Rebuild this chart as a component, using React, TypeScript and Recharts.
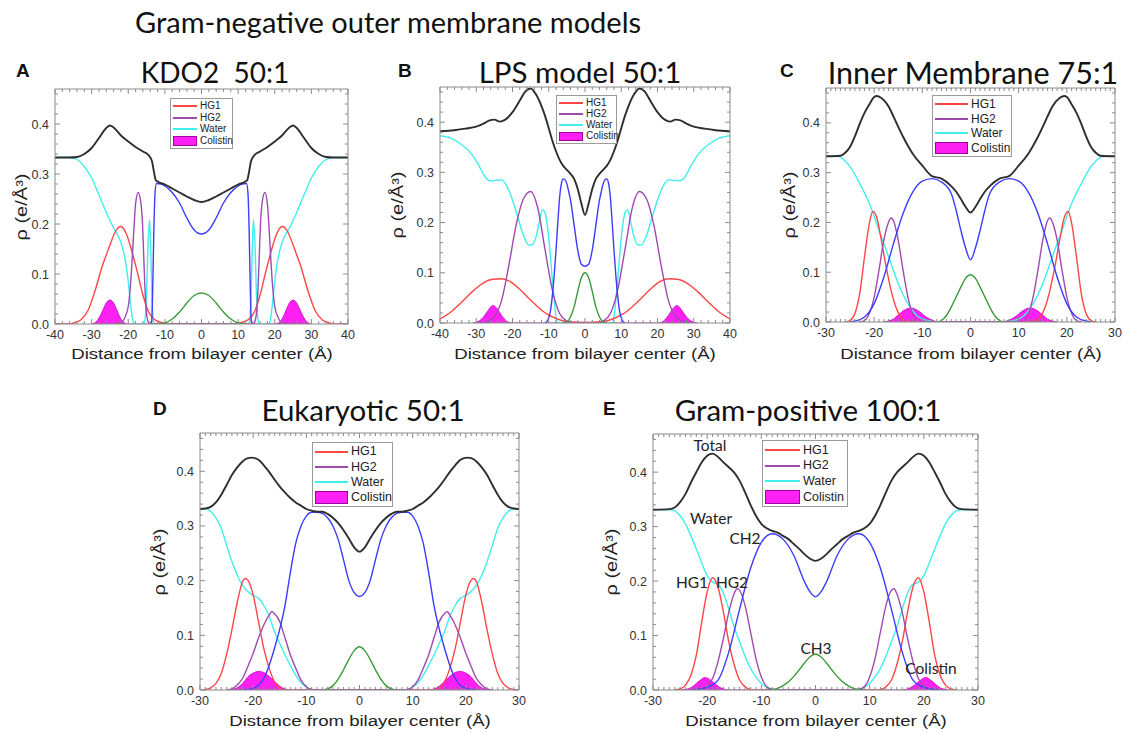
import React from 'react';
import { ComposedChart, Line, Area, XAxis, YAxis } from 'recharts';

type Pt = [number, number];

// line colours of the density profiles
const C_TOTAL = '#2e2e2e';
const C_WATER = '#40eeee';
const C_HG1 = '#ff4646';
const C_HG2 = '#a04ab0';
const C_CH2 = '#3c3cff';
const C_CH3 = '#3a9a3a';
const C_COL = '#ff20f4';

const Y_DOMAIN: [number, number] = [0, 0.47];
const Y_MAJOR = [0, 0.1, 0.2, 0.3, 0.4];
const X_MAJOR_40 = [-40, -30, -20, -10, 0, 10, 20, 30, 40];
const X_MAJOR_30 = [-30, -20, -10, 0, 10, 20, 30];

// ---------- A: KDO2 50:1 ----------
const aTotal: Pt[] = [[-40,.333],[-36,.333],[-34,.334],[-32,.34],[-30,.352],[-28,.372],[-26,.392],[-25,.397],[-24,.393],[-22,.377],[-20,.365],[-18,.354],[-16,.345],[-14.5,.338],[-13.5,.325],[-13,.305],[-12.5,.288],[-12,.285],[-10,.279],[-8,.271],[-6,.263],[-4,.255],[-2,.248],[0,.244],[2,.248],[4,.255],[6,.263],[8,.271],[10,.279],[12,.285],[12.5,.288],[13,.305],[13.5,.325],[14.5,.338],[16,.345],[18,.354],[20,.365],[22,.377],[24,.393],[25,.397],[26,.392],[28,.372],[30,.352],[32,.34],[34,.334],[36,.333],[40,.333]];
const aWater: Pt[] = [[-40,.333],[-36,.333],[-34,.329],[-32,.315],[-30,.292],[-28,.258],[-26,.223],[-24,.192],[-22,.163],[-21,.135],[-20,.085],[-19.3,.035],[-18.7,.005],[-18.3,0],[-16,0],[-15.5,.005],[-15,.06],[-14.6,.16],[-14.2,.208],[-13.9,.16],[-13.5,.05],[-13.1,.005],[-12.8,0],[12.8,0],[13.1,.005],[13.5,.05],[13.9,.16],[14.2,.208],[14.6,.16],[15,.06],[15.5,.005],[16,0],[18.3,0],[18.7,.005],[19.3,.035],[20,.085],[21,.135],[22,.163],[24,.192],[26,.223],[28,.258],[30,.292],[32,.315],[34,.329],[36,.333],[40,.333]];
const aHG1: Pt[] = [[-40,0],[-36,0],[-35,.002],[-33,.008],[-31,.027],[-29,.068],[-27,.118],[-26,.138],[-25,.158],[-23.5,.185],[-22,.195],[-20.5,.18],[-19,.145],[-17.5,.103],[-16,.058],[-14.5,.025],[-13,.01],[-11,.003],[-9,0],[9,0],[11,.003],[13,.01],[14.5,.025],[16,.058],[17.5,.103],[19,.145],[20.5,.18],[22,.195],[23.5,.185],[25,.158],[26,.138],[27,.118],[29,.068],[31,.027],[33,.008],[35,.002],[36,0],[40,0]];
const aHG2: Pt[] = [[-24,0],[-22,.002],[-21,.012],[-20,.035],[-19.5,.068],[-19,.12],[-18.5,.185],[-18,.24],[-17.3,.263],[-16.6,.245],[-16.1,.2],[-15.7,.12],[-15.3,.05],[-14.9,.015],[-14.4,.002],[-14,0],[14,0],[14.4,.002],[14.9,.015],[15.3,.05],[15.7,.12],[16.1,.2],[16.6,.245],[17.3,.263],[18,.24],[18.5,.185],[19,.12],[19.5,.068],[20,.035],[21,.012],[22,.002],[24,0]];
const aCH2: Pt[] = [[-14,0],[-13.6,.005],[-13.3,.08],[-13,.19],[-12.7,.26],[-12.3,.281],[-11,.28],[-10,.276],[-8,.263],[-6,.242],[-4,.212],[-2,.188],[0,.18],[2,.188],[4,.212],[6,.242],[8,.263],[10,.276],[11,.28],[12.3,.281],[12.7,.26],[13,.19],[13.3,.08],[13.6,.005],[14,0]];
const aCH3: Pt[] = [[-12,0],[-10,.002],[-8,.01],[-6,.024],[-4,.042],[-2,.057],[0,.062],[2,.057],[4,.042],[6,.024],[8,.01],[10,.002],[12,0]];
const aCol: Pt[] = [[-30,0],[-29,.003],[-28,.012],[-27,.027],[-26,.042],[-25,.048],[-24,.042],[-23,.026],[-22,.01],[-21,.002],[-20,0],[20,0],[21,.002],[22,.01],[23,.026],[24,.042],[25,.048],[26,.042],[27,.027],[28,.012],[29,.003],[30,0]];

// ---------- B: LPS model 50:1 ----------
const bTotal: Pt[] = [[-40,.382],[-36,.384],[-33,.387],[-30,.391],[-28,.397],[-26.5,.403],[-25,.405],[-23.5,.401],[-22,.405],[-20,.42],[-18,.443],[-16.5,.461],[-15,.467],[-13.5,.455],[-12,.432],[-11,.412],[-10,.388],[-9,.363],[-8,.342],[-7,.325],[-6,.313],[-5,.305],[-4,.297],[-3,.287],[-2,.267],[-1,.238],[0,.215],[1,.238],[2,.267],[3,.287],[4,.297],[5,.305],[6,.313],[7,.325],[8,.342],[9,.363],[10,.388],[11,.412],[12,.432],[13.5,.455],[15,.467],[16.5,.461],[18,.443],[20,.42],[22,.405],[23.5,.401],[25,.405],[26.5,.403],[28,.397],[30,.391],[33,.387],[36,.384],[40,.382]];
const bWater: Pt[] = [[-40,.373],[-37,.368],[-34,.355],[-31,.334],[-29,.31],[-27.5,.29],[-26,.283],[-24.5,.284],[-23,.285],[-21.5,.272],[-20,.245],[-18.5,.21],[-17,.175],[-15.5,.155],[-14.5,.156],[-13.5,.172],[-12.5,.205],[-11.8,.225],[-11.2,.222],[-10.5,.2],[-10,.17],[-9.5,.13],[-9,.085],[-8.5,.045],[-8,.012],[-7.5,0],[7.5,0],[8,.012],[8.5,.045],[9,.085],[9.5,.13],[10,.17],[10.5,.2],[11.2,.222],[11.8,.225],[12.5,.205],[13.5,.172],[14.5,.156],[15.5,.155],[17,.175],[18.5,.21],[20,.245],[21.5,.272],[23,.285],[24.5,.284],[26,.283],[27.5,.29],[29,.31],[31,.334],[34,.355],[37,.368],[40,.373]];
const bHG1: Pt[] = [[-40,.008],[-37,.022],[-34,.042],[-31,.063],[-28,.08],[-25.5,.087],[-23,.088],[-20.5,.082],[-18,.067],[-15.5,.049],[-13,.032],[-10.5,.018],[-8,.009],[-5,.003],[0,.001],[5,.003],[8,.009],[10.5,.018],[13,.032],[15.5,.049],[18,.067],[20.5,.082],[23,.088],[25.5,.087],[28,.08],[31,.063],[34,.042],[37,.022],[40,.008]];
const bHG2: Pt[] = [[-30,0],[-27,.003],[-25,.013],[-23,.045],[-21,.115],[-19,.195],[-17,.247],[-15,.262],[-13,.228],[-11,.145],[-9,.065],[-7,.019],[-5,.004],[-3,0],[3,0],[5,.004],[7,.019],[9,.065],[11,.145],[13,.228],[15,.262],[17,.247],[19,.195],[21,.115],[23,.045],[25,.013],[27,.003],[30,0]];
const bCH2: Pt[] = [[-11,0],[-10.3,.005],[-9.5,.025],[-9,.055],[-8.5,.095],[-8,.145],[-7.5,.2],[-7,.25],[-6.5,.278],[-6,.287],[-5.5,.285],[-5,.277],[-4.5,.262],[-4,.245],[-3,.195],[-2,.145],[-1,.117],[0,.113],[1,.117],[2,.145],[3,.195],[4,.245],[4.5,.262],[5,.277],[5.5,.285],[6,.287],[6.5,.278],[7,.25],[7.5,.2],[8,.145],[8.5,.095],[9,.055],[9.5,.025],[10.3,.005],[11,0]];
const bCH3: Pt[] = [[-6,0],[-5,.002],[-4,.012],[-3,.032],[-2,.063],[-1,.09],[0,.1],[1,.09],[2,.063],[3,.032],[4,.012],[5,.002],[6,0]];
const bCol: Pt[] = [[-31,0],[-29.5,.003],[-28,.012],[-27,.022],[-26,.032],[-25.5,.035],[-25,.034],[-24,.026],[-23,.015],[-22,.006],[-21,.001],[-20,0],[20,0],[21,.001],[22,.006],[23,.015],[24,.026],[25,.034],[25.5,.035],[26,.032],[27,.022],[28,.012],[29.5,.003],[31,0]];

// ---------- C: Inner Membrane 75:1 ----------
const cTotal: Pt[] = [[-30,.333],[-27,.334],[-26,.34],[-25,.352],[-24,.373],[-23,.398],[-22,.42],[-21,.437],[-20,.452],[-19.5,.454],[-18.5,.45],[-17,.433],[-16,.413],[-15,.392],[-14,.372],[-13,.354],[-12,.338],[-10,.314],[-8,.293],[-6,.288],[-4,.273],[-3,.262],[-2,.247],[-1,.231],[0,.22],[1,.231],[2,.247],[3,.262],[4,.273],[6,.288],[8,.293],[10,.314],[12,.338],[13,.354],[14,.372],[15,.392],[16,.413],[17,.433],[18.5,.45],[19.5,.454],[20,.452],[21,.437],[22,.42],[23,.398],[24,.373],[25,.352],[26,.34],[27,.334],[30,.333]];
const cWater: Pt[] = [[-30,.333],[-28,.333],[-27,.331],[-26,.323],[-25,.312],[-23,.278],[-21,.238],[-19,.184],[-17,.131],[-15,.077],[-13,.037],[-11,.012],[-9,.003],[-7,0],[7,0],[9,.003],[11,.012],[13,.037],[15,.077],[17,.131],[19,.184],[21,.238],[23,.278],[25,.312],[26,.323],[27,.331],[28,.333],[30,.333]];
const cHG1: Pt[] = [[-26,0],[-25,.003],[-24,.017],[-23,.057],[-22,.131],[-21,.198],[-20.3,.222],[-19.5,.211],[-18.5,.164],[-17.5,.11],[-16.5,.064],[-15.5,.03],[-14.5,.01],[-13.5,.002],[-12.5,0],[12.5,0],[13.5,.002],[14.5,.01],[15.5,.03],[16.5,.064],[17.5,.11],[18.5,.164],[19.5,.211],[20.3,.222],[21,.198],[22,.131],[23,.057],[24,.017],[25,.003],[26,0]];
const cHG2: Pt[] = [[-23,0],[-22,.003],[-21,.017],[-20,.05],[-19,.104],[-18,.164],[-17,.201],[-16.5,.209],[-16,.204],[-15,.164],[-14,.104],[-13,.05],[-12,.017],[-11,.003],[-10,0],[10,0],[11,.003],[12,.017],[13,.05],[14,.104],[15,.164],[16,.204],[16.5,.209],[17,.201],[18,.164],[19,.104],[20,.05],[21,.017],[22,.003],[23,0]];
const cCH2: Pt[] = [[-25,0],[-24,.002],[-22,.01],[-20,.037],[-18,.09],[-16,.157],[-14,.218],[-12,.261],[-10,.283],[-8,.288],[-6,.281],[-4,.258],[-3,.225],[-2,.184],[-1,.148],[0,.125],[1,.148],[2,.184],[3,.225],[4,.258],[6,.281],[8,.288],[10,.283],[12,.261],[14,.218],[16,.157],[18,.09],[20,.037],[22,.01],[24,.002],[25,0]];
const cCH3: Pt[] = [[-7,0],[-6,.003],[-5,.013],[-4,.03],[-3,.05],[-2,.07],[-1,.088],[0,.095],[1,.088],[2,.07],[3,.05],[4,.03],[5,.013],[6,.003],[7,0]];
const cCol: Pt[] = [[-18,0],[-17,.002],[-16,.006],[-15,.014],[-14,.022],[-13,.027],[-12.3,.028],[-11.5,.026],[-10.5,.02],[-9.5,.012],[-8.5,.006],[-7.5,.002],[-6.5,0],[6.5,0],[7.5,.002],[8.5,.006],[9.5,.012],[10.5,.02],[11.5,.026],[12.3,.028],[13,.027],[14,.022],[15,.014],[16,.006],[17,.002],[18,0]];

// ---------- D: Eukaryotic 50:1 ----------
const dTotal: Pt[] = [[-30,.331],[-29,.332],[-28,.335],[-27,.343],[-26,.357],[-25,.375],[-24,.393],[-23,.407],[-22,.418],[-21,.424],[-20.3,.425],[-19,.421],[-18,.411],[-17,.399],[-16,.385],[-15,.372],[-14,.361],[-13,.351],[-12,.343],[-11,.337],[-10,.331],[-9,.328],[-8,.326],[-7,.326],[-6,.322],[-5,.315],[-4,.305],[-3,.292],[-2,.277],[-1,.261],[0,.253],[1,.261],[2,.277],[3,.292],[4,.305],[5,.315],[6,.322],[7,.326],[8,.326],[9,.328],[10,.331],[11,.337],[12,.343],[13,.351],[14,.361],[15,.372],[16,.385],[17,.399],[18,.411],[19,.421],[20.3,.425],[21,.424],[22,.418],[23,.407],[24,.393],[25,.375],[26,.357],[27,.343],[28,.335],[29,.332],[30,.331]];
const dWater: Pt[] = [[-30,.331],[-29,.331],[-28,.327],[-27,.315],[-26,.296],[-25,.265],[-24,.235],[-23,.21],[-22,.192],[-21,.18],[-20,.173],[-19,.168],[-18,.155],[-17,.135],[-16,.107],[-15,.085],[-14,.064],[-13,.045],[-12,.027],[-11,.013],[-10,.005],[-9,.001],[-8,0],[8,0],[9,.001],[10,.005],[11,.013],[12,.027],[13,.045],[14,.064],[15,.085],[16,.107],[17,.135],[18,.155],[19,.168],[20,.173],[21,.18],[22,.192],[23,.21],[24,.235],[25,.265],[26,.296],[27,.315],[28,.327],[29,.331],[30,.331]];
const dHG1: Pt[] = [[-29.5,0],[-28,.004],[-27,.012],[-26,.03],[-25,.065],[-24,.11],[-23,.16],[-22,.198],[-21.5,.204],[-21,.201],[-20,.174],[-19,.125],[-18,.076],[-17,.04],[-16,.015],[-15,.004],[-14,0],[14,0],[15,.004],[16,.015],[17,.04],[18,.076],[19,.125],[20,.174],[21,.201],[21.5,.204],[22,.198],[23,.16],[24,.11],[25,.065],[26,.03],[27,.012],[28,.004],[29.5,0]];
const dHG2: Pt[] = [[-25,0],[-24,.002],[-23,.009],[-22,.021],[-21,.043],[-20,.067],[-19,.095],[-18,.119],[-17,.137],[-16.5,.143],[-16,.14],[-15,.125],[-14,.095],[-13,.064],[-12,.04],[-11,.018],[-10,.006],[-9,.001],[-8,0],[8,0],[9,.001],[10,.006],[11,.018],[12,.04],[13,.064],[14,.095],[15,.125],[16,.14],[16.5,.143],[17,.137],[18,.119],[19,.095],[20,.067],[21,.043],[22,.021],[23,.009],[24,.002],[25,0]];
const dCH2: Pt[] = [[-22,0],[-20,.003],[-18,.021],[-16,.076],[-14,.155],[-13,.215],[-12,.268],[-11,.3],[-10,.318],[-9,.325],[-8,.325],[-7,.323],[-6,.315],[-5,.3],[-4,.275],[-3,.238],[-2,.2],[-1,.178],[0,.171],[1,.178],[2,.2],[3,.238],[4,.275],[5,.3],[6,.315],[7,.323],[8,.325],[9,.325],[10,.318],[11,.3],[12,.268],[13,.215],[14,.155],[16,.076],[18,.021],[20,.003],[22,0]];
const dCH3: Pt[] = [[-7,0],[-6,.002],[-5,.008],[-4,.02],[-3,.037],[-2,.056],[-1,.072],[0,.079],[1,.072],[2,.056],[3,.037],[4,.02],[5,.008],[6,.002],[7,0]];
const dCol: Pt[] = [[-25,0],[-24,.001],[-23,.004],[-22,.012],[-21,.024],[-20,.031],[-19,.034],[-18,.032],[-17,.025],[-16,.016],[-15,.007],[-14,.002],[-13,0],[13,0],[14,.002],[15,.007],[16,.016],[17,.025],[18,.032],[19,.034],[20,.031],[21,.024],[22,.012],[23,.004],[24,.001],[25,0]];

// ---------- E: Gram-positive 100:1 ----------
const eTotal: Pt[] = [[-30,.331],[-27,.332],[-26,.335],[-25,.345],[-24,.36],[-23,.381],[-22,.4],[-21,.418],[-20,.43],[-19,.434],[-18,.428],[-17,.418],[-16,.409],[-15,.399],[-14,.384],[-13,.363],[-12,.34],[-11,.32],[-10,.305],[-9,.297],[-8,.292],[-7,.289],[-6,.283],[-5,.277],[-4,.268],[-3,.259],[-2,.249],[-1,.241],[0,.237],[1,.241],[2,.249],[3,.259],[4,.268],[5,.277],[6,.283],[7,.289],[8,.292],[9,.297],[10,.305],[11,.32],[12,.34],[13,.363],[14,.384],[15,.399],[16,.409],[17,.418],[18,.428],[19,.434],[20,.43],[21,.418],[22,.4],[23,.381],[24,.36],[25,.345],[26,.335],[27,.332],[30,.331]];
const eWater: Pt[] = [[-30,.331],[-27,.331],[-26,.329],[-25,.32],[-24,.305],[-23,.283],[-22,.259],[-21,.233],[-20,.21],[-19,.198],[-18,.194],[-17,.178],[-16,.148],[-15,.115],[-14,.088],[-13,.062],[-12,.04],[-11,.024],[-10,.012],[-9,.005],[-8,.002],[-7,0],[7,0],[8,.002],[9,.005],[10,.012],[11,.024],[12,.04],[13,.062],[14,.088],[15,.115],[16,.148],[17,.178],[18,.194],[19,.198],[20,.21],[21,.233],[22,.259],[23,.283],[24,.305],[25,.32],[26,.329],[27,.331],[30,.331]];
const eHG1: Pt[] = [[-26,0],[-25,.002],[-24,.009],[-23,.027],[-22,.064],[-21,.125],[-20,.18],[-19,.206],[-18,.189],[-17,.143],[-16,.088],[-15,.046],[-14,.018],[-13,.006],[-12,.001],[-11,0],[11,0],[12,.001],[13,.006],[14,.018],[15,.046],[16,.088],[17,.143],[18,.189],[19,.206],[20,.18],[21,.125],[22,.064],[23,.027],[24,.009],[25,.002],[26,0]];
const eHG2: Pt[] = [[-22,0],[-21,.002],[-20,.008],[-19,.021],[-18,.052],[-17,.095],[-16,.143],[-15,.177],[-14.5,.186],[-14,.183],[-13,.155],[-12,.107],[-11,.058],[-10,.024],[-9,.006],[-8,.001],[-7,0],[7,0],[8,.001],[9,.006],[10,.024],[11,.058],[12,.107],[13,.155],[14,.183],[14.5,.186],[15,.177],[16,.143],[17,.095],[18,.052],[19,.021],[20,.008],[21,.002],[22,0]];
const eCH2: Pt[] = [[-23,0],[-22,.001],[-20,.005],[-18,.018],[-16,.07],[-14,.149],[-12,.223],[-10,.271],[-8,.287],[-6,.277],[-4,.247],[-2,.198],[-1,.18],[0,.171],[1,.18],[2,.198],[4,.247],[6,.277],[8,.287],[10,.271],[12,.223],[14,.149],[16,.07],[18,.018],[20,.005],[22,.001],[23,0]];
const eCH3: Pt[] = [[-9,0],[-8,.001],[-7,.003],[-6,.008],[-5,.015],[-4,.025],[-3,.037],[-2,.05],[-1,.061],[0,.066],[1,.061],[2,.05],[3,.037],[4,.025],[5,.015],[6,.008],[7,.003],[8,.001],[9,0]];
const eCol: Pt[] = [[-25,0],[-24,.001],[-23,.004],[-22,.012],[-21,.02],[-20.5,.023],[-20,.022],[-19,.015],[-18,.007],[-17,.002],[-16,0],[16,0],[17,.002],[18,.007],[19,.015],[20,.022],[20.5,.023],[21,.02],[22,.012],[23,.004],[24,.001],[25,0]];

const E_NOTES = [
  { text: 'Total', x: 710, y: 445 },
  { text: 'Water', x: 711, y: 518 },
  { text: 'CH2', x: 745, y: 538 },
  { text: 'HG1', x: 692, y: 582 },
  { text: 'HG2', x: 732, y: 582 },
  { text: 'CH3', x: 816, y: 648 },
  { text: 'Colistin', x: 931, y: 668 },
];

const ARIAL = '"Liberation Sans", Arial, sans-serif';
const TITLE_FONT = 'Lato, "Open Sans", sans-serif';
const FRAME = '#8a8a8a';

const pts = (a: Pt[]) => a.map(([x, y]) => ({ x, y }));
const range = (from: number, to: number, step: number) => {
  const out: number[] = [];
  for (let v = from; v <= to + 1e-9; v += step) out.push(+v.toFixed(3));
  return out;
};
const Y_MINOR = range(0, 0.46, 0.02);
const isMajor = (majors: number[], v: number) => majors.some((m) => Math.abs(m - v) < 1e-6);

// tick marks point into the plot, labels only on the major ones
function BottomTick(props: any) {
  const { x, y, payload, majors } = props;
  const major = isMajor(majors, payload.value);
  return (
    <g>
      <line x1={x} x2={x} y1={y} y2={y - (major ? 5 : 3)} stroke={FRAME} strokeWidth={1} />
      {major && (
        <text x={x} y={y + 15} textAnchor="middle" fontSize={12.5} fill="#333" fontFamily={ARIAL}>
          {payload.value}
        </text>
      )}
    </g>
  );
}

function TopTick(props: any) {
  const { x, y, payload, majors } = props;
  const major = isMajor(majors, payload.value);
  return <line x1={x} x2={x} y1={y} y2={y + (major ? 5 : 3)} stroke={FRAME} strokeWidth={1} />;
}

function LeftTick(props: any) {
  const { x, y, payload } = props;
  const v = payload.value;
  const major = isMajor(Y_MAJOR, v);
  return (
    <g>
      <line x1={x} x2={x + (major ? 5 : 3)} y1={y} y2={y} stroke={FRAME} strokeWidth={1} />
      {major && (
        <text x={x - 6} y={y + 4.5} textAnchor="end" fontSize={12.5} fill="#333" fontFamily={ARIAL}>
          {v.toFixed(1)}
        </text>
      )}
    </g>
  );
}

function RightTick(props: any) {
  const { x, y, payload } = props;
  const major = isMajor(Y_MAJOR, payload.value);
  return <line x1={x} x2={x - (major ? 5 : 3)} y1={y} y2={y} stroke={FRAME} strokeWidth={1} />;
}

interface PanelCfg {
  letter: string;
  title: string;
  left: number;
  top: number;
  right: number;
  bottom: number;
  xDomain: [number, number];
  xMajor: number[];
  xStep: number;
  titleX: number;
  titleY: number;
  titleSize: number;
  letterX: number;
  axisTitleY: number;
  yLabelX: number;
  legend: { left: number; top: number; w: number; h: number; font: number; sample: number };
  total: Pt[];
  water: Pt[];
  hg1: Pt[];
  hg2: Pt[];
  ch2: Pt[];
  ch3: Pt[];
  col: Pt[];
}

const PANELS: PanelCfg[] = [
  { letter: 'A', title: 'KDO2  50:1', left: 55, top: 89, right: 348, bottom: 324, xDomain: [-40, 40], xMajor: X_MAJOR_40, xStep: 2,
    titleX: 215, titleY: 72, titleSize: 28, letterX: 16, axisTitleY: 354, yLabelX: 22,
    legend: { left: 170, top: 98, w: 63, h: 51, font: 10, sample: 24 },
    total: aTotal, water: aWater, hg1: aHG1, hg2: aHG2, ch2: aCH2, ch3: aCH3, col: aCol },
  { letter: 'B', title: 'LPS model 50:1', left: 440, top: 87, right: 730, bottom: 323, xDomain: [-40, 40], xMajor: X_MAJOR_40, xStep: 2,
    titleX: 580, titleY: 72, titleSize: 29.5, letterX: 398, axisTitleY: 354, yLabelX: 398,
    legend: { left: 556, top: 95, w: 61, h: 49, font: 10, sample: 24 },
    total: bTotal, water: bWater, hg1: bHG1, hg2: bHG2, ch2: bCH2, ch3: bCH3, col: bCol },
  { letter: 'C', title: 'Inner Membrane 75:1', left: 826, top: 88, right: 1115, bottom: 322, xDomain: [-30, 30], xMajor: X_MAJOR_30, xStep: 1,
    titleX: 973, titleY: 72, titleSize: 30.5, letterX: 780, axisTitleY: 354, yLabelX: 790,
    legend: { left: 932, top: 95, w: 80, h: 62, font: 12, sample: 33 },
    total: cTotal, water: cWater, hg1: cHG1, hg2: cHG2, ch2: cCH2, ch3: cCH3, col: cCol },
  { letter: 'D', title: 'Eukaryotic 50:1', left: 200, top: 433, right: 519, bottom: 690, xDomain: [-30, 30], xMajor: X_MAJOR_30, xStep: 1,
    titleX: 363, titleY: 410, titleSize: 29.5, letterX: 153, axisTitleY: 721, yLabelX: 160,
    legend: { left: 312, top: 442, w: 81, h: 65, font: 12.5, sample: 33 },
    total: dTotal, water: dWater, hg1: dHG1, hg2: dHG2, ch2: dCH2, ch3: dCH3, col: dCol },
  { letter: 'E', title: 'Gram-positive 100:1', left: 653, top: 434, right: 978, bottom: 690, xDomain: [-30, 30], xMajor: X_MAJOR_30, xStep: 1,
    titleX: 808, titleY: 410, titleSize: 29.5, letterX: 603, axisTitleY: 721, yLabelX: 612,
    legend: { left: 762, top: 440, w: 86, h: 67, font: 12.5, sample: 35 },
    total: eTotal, water: eWater, hg1: eHG1, hg2: eHG2, ch2: eCH2, ch3: eCH3, col: eCol },
];

const YW = 45;
const XH = 40;
const RM = 9;

function Legend({ cfg }: { cfg: PanelCfg['legend'] }) {
  const rows = [
    { name: 'HG1', color: C_HG1 },
    { name: 'HG2', color: C_HG2 },
    { name: 'Water', color: C_WATER },
    { name: 'Colistin', color: C_COL, box: true },
  ];
  const rowH = (cfg.h - 4) / 4;
  return (
    <div
      style={{
        position: 'absolute', left: cfg.left, top: cfg.top, width: cfg.w, height: cfg.h,
        border: '1px solid #9a9a9a', background: '#fff', boxSizing: 'border-box', padding: '1px 2px',
        fontFamily: ARIAL, fontSize: cfg.font, color: '#222',
      }}
    >
      {rows.map((r) => (
        <div key={r.name} style={{ display: 'flex', alignItems: 'center', height: rowH, lineHeight: 1 }}>
          {r.box ? (
            <div style={{ width: cfg.sample, height: rowH - 2, background: r.color, border: '1px solid #a000a0', boxSizing: 'border-box', flex: 'none' }} />
          ) : (
            <div style={{ width: cfg.sample, height: 2, background: r.color, flex: 'none' }} />
          )}
          <span style={{ marginLeft: 3 }}>{r.name}</span>
        </div>
      ))}
    </div>
  );
}

function Panel({ p }: { p: PanelCfg }) {
  const pw = p.right - p.left;
  const ph = p.bottom - p.top;
  const xMinor = range(p.xDomain[0], p.xDomain[1], p.xStep);
  const axisCommon = { axisLine: { stroke: FRAME }, tickLine: false, tickSize: 0, tickMargin: 0, interval: 0 as const, allowDataOverflow: true };
  const lines: [Pt[], string, number][] = [
    [p.water, C_WATER, 1.4],
    [p.hg1, C_HG1, 1.4],
    [p.hg2, C_HG2, 1.4],
    [p.ch3, C_CH3, 1.4],
    [p.ch2, C_CH2, 1.4],
    [p.total, C_TOTAL, 1.9],
  ];
  return (
    <>
      <div style={{ position: 'absolute', left: p.left - YW, top: p.top - 1 }}>
        <ComposedChart width={pw + YW + 1 + RM} height={ph + 1 + XH} margin={{ top: 0, right: RM, bottom: 0, left: 0 }}>
          <XAxis dataKey="x" type="number" domain={p.xDomain} ticks={xMinor} height={XH}
            tick={<BottomTick majors={p.xMajor} />} {...axisCommon} />
          <XAxis xAxisId="top" dataKey="x" type="number" orientation="top" domain={p.xDomain} ticks={xMinor} height={1}
            tick={<TopTick majors={p.xMajor} />} {...axisCommon} />
          <YAxis type="number" domain={Y_DOMAIN} ticks={Y_MINOR} width={YW} tick={<LeftTick />} {...axisCommon} />
          <YAxis yAxisId="r" type="number" orientation="right" domain={Y_DOMAIN} ticks={Y_MINOR} width={1}
            tick={<RightTick />} {...axisCommon} />
          <Area data={pts(p.col)} dataKey="y" type="monotone" fill={C_COL} fillOpacity={1} stroke="#c000c0" strokeWidth={0.8}
            isAnimationActive={false} dot={false} activeDot={false} />
          {lines.map(([d, color, w], i) => (
            <Line key={i} data={pts(d)} dataKey="y" type="monotone" stroke={color} strokeWidth={w}
              dot={false} activeDot={false} isAnimationActive={false} />
          ))}
        </ComposedChart>
      </div>
      <Legend cfg={p.legend} />
      <div style={{ position: 'absolute', left: p.letterX, top: p.titleY - 12, fontFamily: ARIAL, fontWeight: 700, fontSize: 19, color: '#111' }}>
        {p.letter}
      </div>
      <div style={{ position: 'absolute', left: p.titleX - 200, width: 400, top: p.titleY - 18, textAlign: 'center',
        fontFamily: TITLE_FONT, fontSize: p.titleSize, color: '#111', whiteSpace: 'pre', lineHeight: '36px' }}>
        {p.title}
      </div>
      <div style={{ position: 'absolute', left: (p.left + p.right) / 2 - 150, width: 300, top: p.axisTitleY - 10, textAlign: 'center',
        fontFamily: ARIAL, fontSize: 15.5, color: '#222', lineHeight: '20px', transform: 'scaleX(1.2)' }}>
        Distance from bilayer center (Å)
      </div>
      <div style={{ position: 'absolute', left: p.yLabelX - 50, width: 100, top: (p.top + p.bottom) / 2 - 10, textAlign: 'center',
        transform: 'rotate(-90deg) scaleX(1.25)', fontFamily: ARIAL, fontSize: 16, color: '#222', lineHeight: '20px' }}>
        ρ (e/Å³)
      </div>
    </>
  );
}

export default function App() {
  return (
    <div style={{ position: 'relative', width: 1124, height: 734, background: '#fff', overflow: 'hidden' }}>
      <style>{'body{margin:0}'}</style>
      <div style={{ position: 'absolute', left: 135, top: 3, fontFamily: TITLE_FONT, fontSize: 29, color: '#111', lineHeight: '38px' }}>
        Gram-negative outer membrane models
      </div>
      {PANELS.map((p) => (
        <Panel key={p.letter} p={p} />
      ))}
      {E_NOTES.map((n) => (
        <div key={n.text} style={{ position: 'absolute', left: n.x - 40, width: 80, top: n.y - 10, textAlign: 'center',
          fontFamily: TITLE_FONT, fontSize: 15.5, color: '#222', lineHeight: '20px' }}>
          {n.text}
        </div>
      ))}
    </div>
  );
}
